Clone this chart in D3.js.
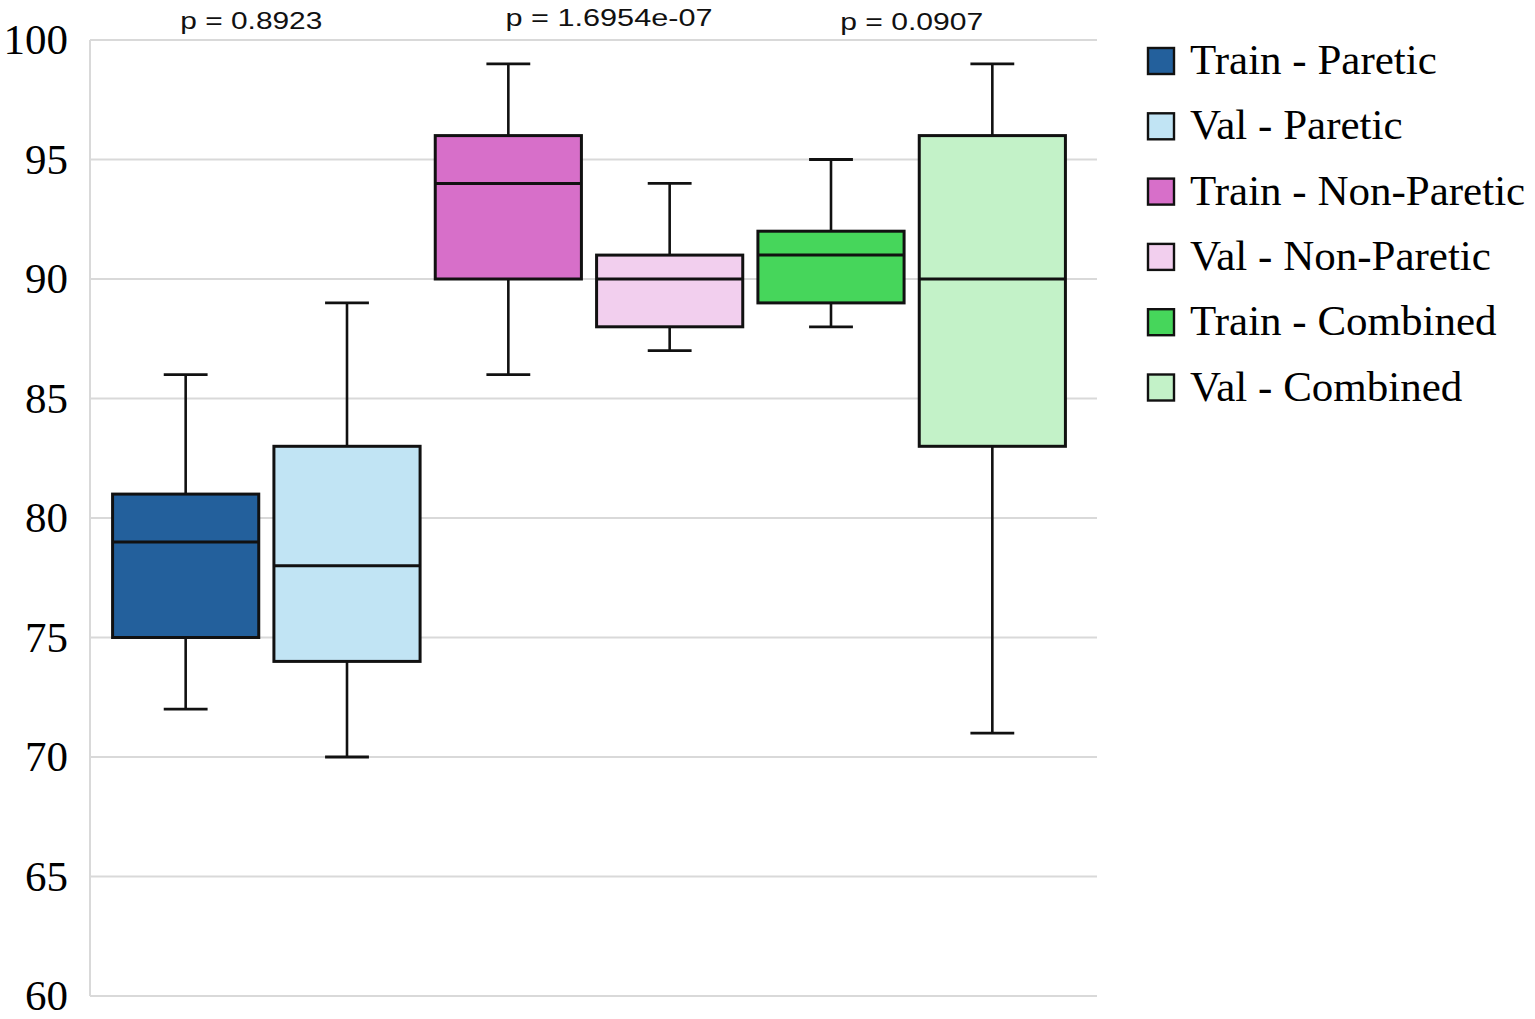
<!DOCTYPE html>
<html>
<head>
<meta charset="utf-8">
<script src="https://cdn.jsdelivr.net/npm/d3@7"></script>
<style>
  html, body { margin: 0; padding: 0; background: #fff; }
  svg { display: block; }
</style>
</head>
<body>
<div id="chart"></div>
<script>
// box statistics
const groups = ["Train - Paretic", "Val - Paretic", "Train - Non-Paretic", "Val - Non-Paretic", "Train - Combined", "Val - Combined"];
const mins    = [72, 70, 86, 87, 88, 71];
const q1s     = [75, 74, 90, 88, 89, 83];
const medians = [79, 78, 94, 90, 91, 90];
const q3s     = [81, 83, 96, 91, 92, 96];
const maxs    = [86, 89, 99, 94, 95, 99];
const colors  = ["#23609c", "#c1e4f4", "#d76fc9", "#f2cfee", "#46d65b", "#c3f2c8"];

const pValues = ["p = 0.8923", "p = 1.6954e-07", "p = 0.0907"];
const yTicks = [60, 65, 70, 75, 80, 85, 90, 95, 100];

const width = 1535, height = 1019;

const svg = d3.select("#chart").append("svg")
    .attr("width", width)
    .attr("height", height);

const y = d3.scaleLinear().domain([60, 100]).range([996, 40]);
const x = d3.scaleBand().domain(groups).range([105, 1073])
    .paddingInner(0.094).paddingOuter(0.047);

const plotLeft = 90, plotRight = 1097;

// gridlines
svg.append("g")
    .attr("stroke", "#d9d9d9")
    .attr("stroke-width", 2)
  .selectAll("line")
  .data(yTicks)
  .join("line")
    .attr("x1", plotLeft)
    .attr("x2", plotRight)
    .attr("y1", d => y(d))
    .attr("y2", d => y(d));

svg.append("line")
    .attr("x1", plotLeft).attr("x2", plotLeft)
    .attr("y1", y(100)).attr("y2", y(60))
    .attr("stroke", "#d9d9d9")
    .attr("stroke-width", 2);

// y axis labels
const yAxis = svg.append("g")
    .attr("transform", `translate(${plotLeft},0)`)
    .call(d3.axisLeft(y).tickValues(yTicks).tickSize(0).tickPadding(22));
yAxis.select(".domain").remove();
yAxis.selectAll("text")
    .attr("font-family", "'Liberation Serif', 'Times New Roman', serif")
    .attr("font-size", 43)
    .attr("fill", "#000")
    .attr("dy", "0.32em");

// boxes
const boxes = groups.map((g, i) => ({
  name: g, min: mins[i], q1: q1s[i], med: medians[i], q3: q3s[i], max: maxs[i], color: colors[i]
}));

const bw = x.bandwidth();
const capW = bw * 0.3;

const box = svg.append("g")
  .selectAll("g")
  .data(boxes)
  .join("g")
    .attr("transform", d => `translate(${x(d.name)},0)`);

// whiskers
box.append("line")
    .attr("x1", bw / 2).attr("x2", bw / 2)
    .attr("y1", d => y(d.max)).attr("y2", d => y(d.q3))
    .attr("stroke", "#111").attr("stroke-width", 2.6);
box.append("line")
    .attr("x1", bw / 2).attr("x2", bw / 2)
    .attr("y1", d => y(d.q1)).attr("y2", d => y(d.min))
    .attr("stroke", "#111").attr("stroke-width", 2.6);
box.append("line")
    .attr("x1", bw / 2 - capW / 2).attr("x2", bw / 2 + capW / 2)
    .attr("y1", d => y(d.max)).attr("y2", d => y(d.max))
    .attr("stroke", "#111").attr("stroke-width", 2.8);
box.append("line")
    .attr("x1", bw / 2 - capW / 2).attr("x2", bw / 2 + capW / 2)
    .attr("y1", d => y(d.min)).attr("y2", d => y(d.min))
    .attr("stroke", "#111").attr("stroke-width", 2.8);

box.append("rect")
    .attr("x", 0)
    .attr("width", bw)
    .attr("y", d => y(d.q3))
    .attr("height", d => y(d.q1) - y(d.q3))
    .attr("fill", d => d.color)
    .attr("stroke", "#111")
    .attr("stroke-width", 3);

box.append("line")
    .attr("x1", 0).attr("x2", bw)
    .attr("y1", d => y(d.med)).attr("y2", d => y(d.med))
    .attr("stroke", "#111").attr("stroke-width", 3);

// p-values above each pair
const pNudge = [-15, 20, 0];
const pBase = [29, 26, 30];
const pLen = [142, 207, 143];
svg.append("g")
  .selectAll("text")
  .data(pValues)
  .join("text")
    .attr("x", (d, i) => (x(groups[2 * i]) + x(groups[2 * i + 1]) + bw) / 2 + pNudge[i] - pLen[i] / 2)
    .attr("y", (d, i) => pBase[i])
    .attr("textLength", (d, i) => pLen[i])
    .attr("lengthAdjust", "spacingAndGlyphs")
    .attr("font-family", "'Liberation Sans', Arial, sans-serif")
    .attr("font-size", 24)
    .attr("fill", "#111")
    .text(d => d);

// legend
const legend = svg.append("g")
    .attr("transform", "translate(1148,74)")
  .selectAll("g")
  .data(boxes)
  .join("g")
    .attr("transform", (d, i) => `translate(0,${i * 65.3})`);

legend.append("rect")
    .attr("x", 0)
    .attr("y", -26)
    .attr("width", 26)
    .attr("height", 26)
    .attr("fill", d => d.color)
    .attr("stroke", "#111")
    .attr("stroke-width", 2.4);

legend.append("text")
    .attr("x", 42)
    .attr("y", 0)
    .attr("font-family", "'Liberation Serif', 'Times New Roman', serif")
    .attr("font-size", 43)
    .attr("fill", "#000")
    .text(d => d.name);
</script>
</body>
</html>
